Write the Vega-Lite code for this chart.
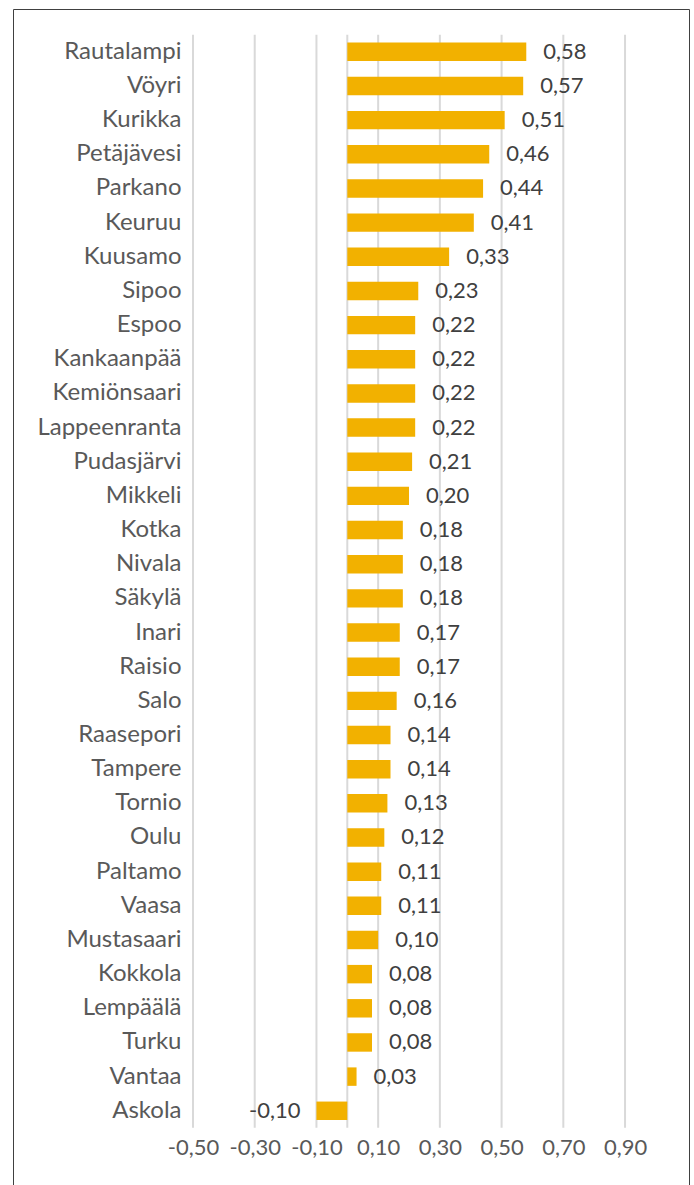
{
  "$schema": "https://vega.github.io/schema/vega-lite/v6.json",
  "autosize": {"type": "none"},
  "padding": {"left": 13, "top": 9, "right": 5, "bottom": 0},
  "width": 676,
  "height": 1176,
  "background": "white",
  "config": {
    "view": {"stroke": "#404040", "strokeWidth": 1},
    "font": "Lato",
    "locale": {"number": {"decimal": ",", "thousands": " ", "grouping": [3], "currency": ["", " €"], "minus": "-"}}
  },
  "datasets": {
    "kunnat": [
      {"kunta": "Rautalampi", "arvo": 0.58},
      {"kunta": "Vöyri", "arvo": 0.57},
      {"kunta": "Kurikka", "arvo": 0.51},
      {"kunta": "Petäjävesi", "arvo": 0.46},
      {"kunta": "Parkano", "arvo": 0.44},
      {"kunta": "Keuruu", "arvo": 0.41},
      {"kunta": "Kuusamo", "arvo": 0.33},
      {"kunta": "Sipoo", "arvo": 0.23},
      {"kunta": "Espoo", "arvo": 0.22},
      {"kunta": "Kankaanpää", "arvo": 0.22},
      {"kunta": "Kemiönsaari", "arvo": 0.22},
      {"kunta": "Lappeenranta", "arvo": 0.22},
      {"kunta": "Pudasjärvi", "arvo": 0.21},
      {"kunta": "Mikkeli", "arvo": 0.20},
      {"kunta": "Kotka", "arvo": 0.18},
      {"kunta": "Nivala", "arvo": 0.18},
      {"kunta": "Säkylä", "arvo": 0.18},
      {"kunta": "Inari", "arvo": 0.17},
      {"kunta": "Raisio", "arvo": 0.17},
      {"kunta": "Salo", "arvo": 0.16},
      {"kunta": "Raasepori", "arvo": 0.14},
      {"kunta": "Tampere", "arvo": 0.14},
      {"kunta": "Tornio", "arvo": 0.13},
      {"kunta": "Oulu", "arvo": 0.12},
      {"kunta": "Paltamo", "arvo": 0.11},
      {"kunta": "Vaasa", "arvo": 0.11},
      {"kunta": "Mustasaari", "arvo": 0.10},
      {"kunta": "Kokkola", "arvo": 0.08},
      {"kunta": "Lempäälä", "arvo": 0.08},
      {"kunta": "Turku", "arvo": 0.08},
      {"kunta": "Vantaa", "arvo": 0.03},
      {"kunta": "Askola", "arvo": -0.10}
    ],
    "ruudukko": [
      {"v": -0.5}, {"v": -0.3}, {"v": -0.1}, {"v": 0}, {"v": 0.1}, {"v": 0.3}, {"v": 0.5}, {"v": 0.7}, {"v": 0.9}
    ]
  },
  "encoding": {
    "y": {
      "field": "kunta",
      "type": "nominal",
      "scale": {
        "domain": ["Rautalampi","Vöyri","Kurikka","Petäjävesi","Parkano","Keuruu","Kuusamo","Sipoo","Espoo","Kankaanpää","Kemiönsaari","Lappeenranta","Pudasjärvi","Mikkeli","Kotka","Nivala","Säkylä","Inari","Raisio","Salo","Raasepori","Tampere","Tornio","Oulu","Paltamo","Vaasa","Mustasaari","Kokkola","Lempäälä","Turku","Vantaa","Askola"],
        "range": [33.6, 1111],
        "paddingInner": 0.46,
        "paddingOuter": 0
      },
      "axis": {
        "title": null,
        "domain": false,
        "ticks": false,
        "tickSize": 0,
        "grid": false,
        "labelPadding": -168,
        "labelFontSize": 24,
        "labelColor": "#595959",
        "labelFont": "Lato"
      }
    }
  },
  "layer": [
    {
      "data": {"name": "ruudukko"},
      "mark": {"type": "rule", "color": "#d9d9d9", "strokeWidth": 2, "yOffset": -17, "y2Offset": 17},
      "encoding": {
        "x": {"field": "v", "type": "quantitative"},
        "y": {"datum": "Rautalampi", "type": "nominal"},
        "y2": {"datum": "Askola"}
      }
    },
    {
      "data": {"name": "kunnat"},
      "mark": {"type": "bar", "color": "#F2B100"},
      "encoding": {
        "x": {
          "field": "arvo",
          "type": "quantitative",
          "scale": {"domain": [-1.0833, 1.1073], "nice": false, "zero": false},
          "axis": {
            "title": null,
            "values": [-0.5, -0.3, -0.1, 0.1, 0.3, 0.5, 0.7, 0.9],
            "format": ".2f",
            "domain": false,
            "ticks": false,
            "tickSize": 0,
            "grid": false,
            "labelPadding": -38,
            "labelBaseline": "middle",
            "labelFontSize": 22,
            "labelColor": "#595959",
            "labelFont": "Lato",
            "labelOverlap": false,
            "labelFlush": false
          }
        },
        "x2": {"datum": 0}
      }
    },
    {
      "data": {"name": "kunnat"},
      "transform": [{"filter": "datum.arvo >= 0"}],
      "mark": {"type": "text", "align": "left", "baseline": "middle", "dx": 17, "fontSize": 22, "color": "#404040", "font": "Lato"},
      "encoding": {
        "x": {"field": "arvo", "type": "quantitative"},
        "text": {"field": "arvo", "type": "quantitative", "format": ".2f"}
      }
    },
    {
      "data": {"name": "kunnat"},
      "transform": [{"filter": "datum.arvo < 0"}],
      "mark": {"type": "text", "align": "right", "baseline": "middle", "dx": -16, "fontSize": 22, "color": "#404040", "font": "Lato"},
      "encoding": {
        "x": {"field": "arvo", "type": "quantitative"},
        "text": {"field": "arvo", "type": "quantitative", "format": ".2f"}
      }
    }
  ]
}
